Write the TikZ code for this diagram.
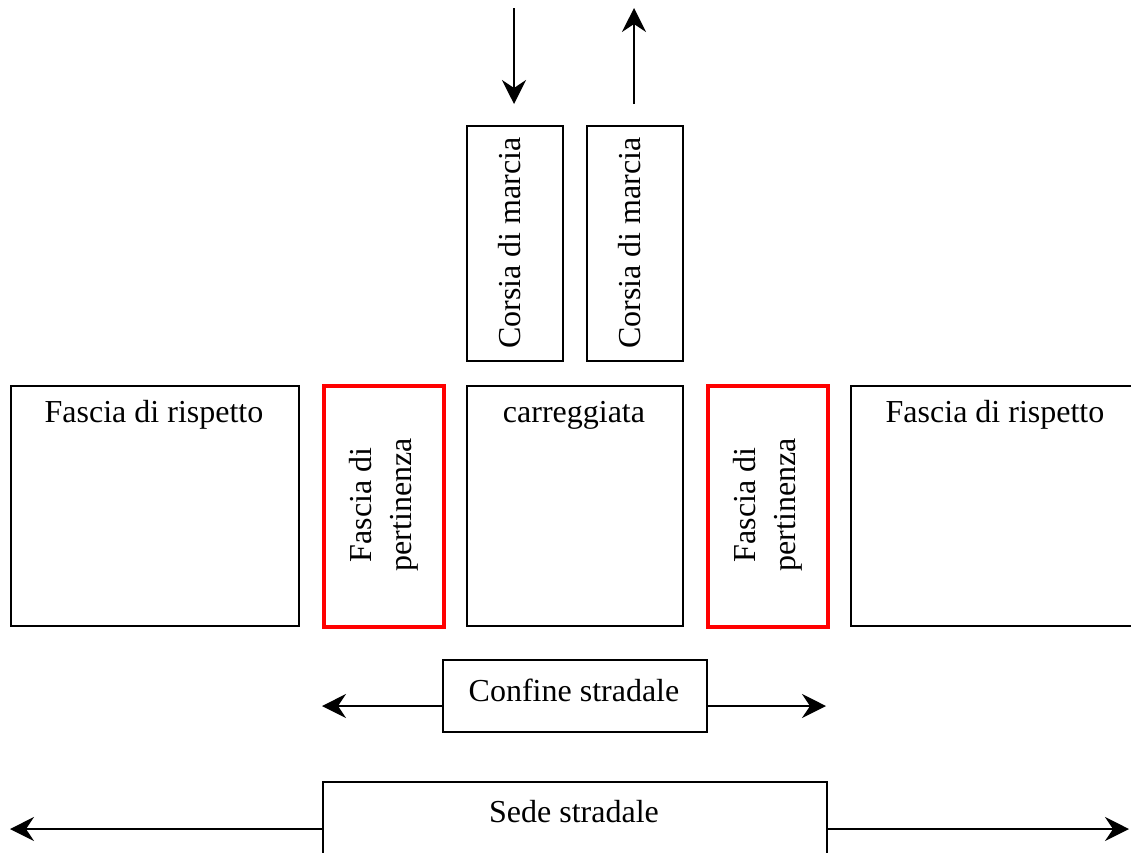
\documentclass[tikz,border=0pt]{standalone}
\usepackage{fontspec}
\setmainfont{Liberation Serif}
\usetikzlibrary{arrows.meta}
\begin{document}
\begin{tikzpicture}[x=1pt,y=-1pt,
  box/.style={draw=black,line width=1.6pt,inner sep=0pt,anchor=north west},
  redbox/.style={draw=red,line width=3.6pt,inner sep=0pt,anchor=north west},
  txt/.style={font=\fontsize{32}{40}\selectfont,inner sep=0pt,align=center},
  arr/.style={line width=1.6pt,-{Stealth[length=24pt,width=24pt,inset=8pt]}}]
\useasboundingbox (0,0) rectangle (1131,852);
% boxes
\node[box,minimum width=288pt,minimum height=240pt] (rl) at (10,385) {};
\node[redbox,minimum width=120pt,minimum height=241pt] (pl) at (322,384) {};
\node[box,minimum width=216pt,minimum height=240pt] (car) at (466,385) {};
\node[redbox,minimum width=120pt,minimum height=241pt] (pr) at (706,384) {};
\node[box,minimum width=290pt,minimum height=240pt] (rr) at (850,385) {};
\node[box,minimum width=96pt,minimum height=235pt] (c1) at (466,125) {};
\node[box,minimum width=96pt,minimum height=235pt] (c2) at (586,125) {};
\node[box,minimum width=264pt,minimum height=72pt] (conf) at (442,659) {};
\node[box,minimum width=504pt,minimum height=100pt] (sede) at (322,781) {};
% texts
\node[txt] (trl) at (154,415) {Fascia di rispetto};
\node[txt] (trr) at (995,415) {Fascia di rispetto};
\node[txt] (tcar) at (574,415) {carreggiata};
\node[txt,rotate=90] (tpl) at (384,505) {Fascia di\\pertinenza};
\node[txt,rotate=90] (tpr) at (768,505) {Fascia di\\pertinenza};
\node[txt,rotate=90] (tc1) at (510,243) {Corsia di marcia};
\node[txt,rotate=90] (tc2) at (630,243) {Corsia di marcia};
\node[txt] (tconf) at (574,690) {Confine stradale};
\node[txt] (tsede) at (574,812) {Sede stradale};
% arrows
\coordinate (a1s) at (514,8);
\coordinate (a1e) at (514,104);
\coordinate (a2s) at (634,104);
\coordinate (a2e) at (634,8);
\draw[arr] (a1s) -- (a1e);
\draw[arr] (a2s) -- (a2e);
\coordinate (cl) at (442,706);
\coordinate (clt) at (322,706);
\coordinate (cr) at (706,706);
\coordinate (crt) at (826,706);
\draw[arr] (cl) -- (clt);
\draw[arr] (cr) -- (crt);
\coordinate (sl) at (322,829);
\coordinate (slt) at (10,829);
\coordinate (sr) at (826,829);
\coordinate (srt) at (1129,829);
\draw[arr] (sl) -- (slt);
\draw[arr] (sr) -- (srt);
\end{tikzpicture}
\end{document}
